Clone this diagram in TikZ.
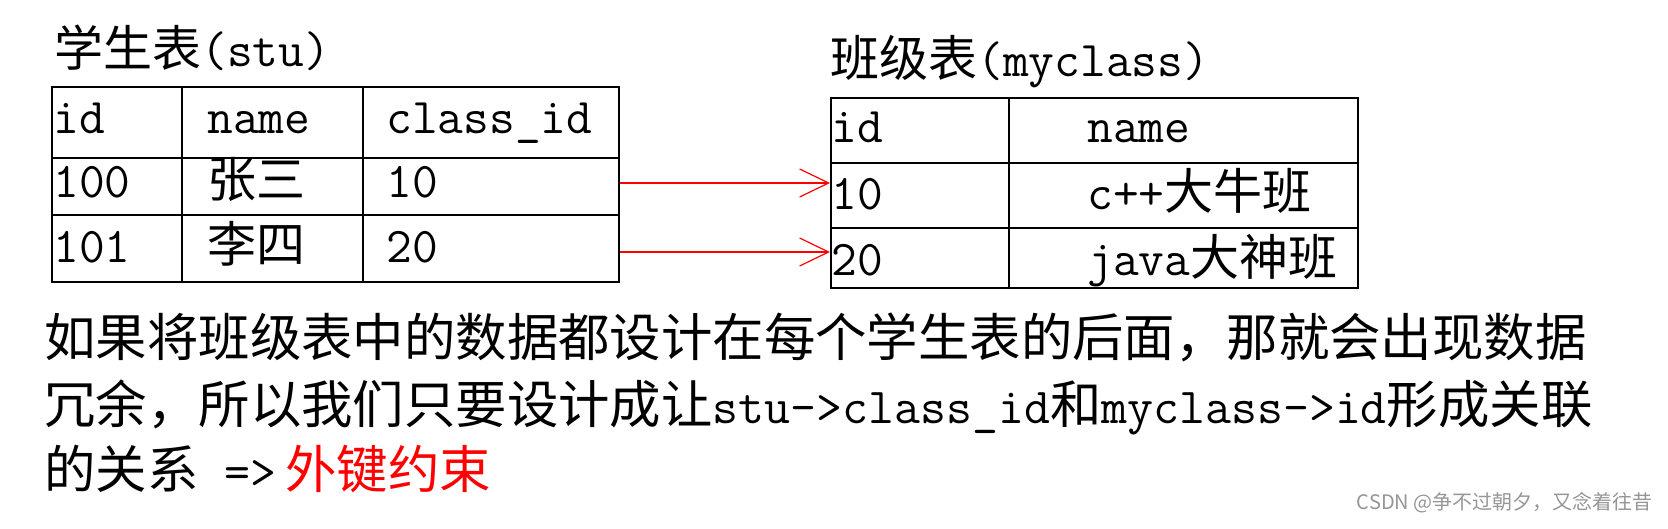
\documentclass[tikz,border=0pt]{standalone}
\usepackage{fontspec}
\setmonofont{Latin Modern Mono}
\newfontfamily\cjk{Noto Sans CJK SC}
\usetikzlibrary{arrows.meta}
\definecolor{wmgray}{RGB}{150,150,150}
\definecolor{fkred}{RGB}{255,0,0}
\newcommand\Ct[1]{{\cjk\fontsize{24.5pt}{24.5pt}\selectfont #1}}
\newcommand\Cp[1]{{\cjk\fontsize{25.7pt}{25.7pt}\selectfont #1}}
\begin{document}
\begin{tikzpicture}[x=0.5pt,y=-0.5pt,
  cell/.style={draw=black,line width=1pt,inner sep=0pt,anchor=north west},
  ttext/.style={anchor=base west,inner sep=0pt,font=\ttfamily\fontsize{25pt}{25pt}\selectfont},
  ptext/.style={anchor=base west,inner sep=0pt,font=\ttfamily\fontsize{25.2pt}{25.2pt}\selectfont},
  link/.style={draw=fkred,line width=0.6pt,-{Straight Barb[length=14.5pt,width=14pt,line width=0.6pt]}},
]
\useasboundingbox (0,0) rectangle (1668,529);
\fill[white] (0,0) rectangle (1668,529);

% stu table
\node[cell,minimum width=65pt,minimum height=35.5pt] (s11) at (51,86) {};
\node[cell,minimum width=90.5pt,minimum height=35.5pt] (s12) at (181,86) {};
\node[cell,minimum width=128pt,minimum height=35.5pt] (s13) at (362,86) {};
\node[cell,minimum width=65pt,minimum height=28.5pt] (s21) at (51,157) {};
\node[cell,minimum width=90.5pt,minimum height=28.5pt] (s22) at (181,157) {};
\node[cell,minimum width=128pt,minimum height=28.5pt] (s23) at (362,157) {};
\node[cell,minimum width=65pt,minimum height=33.5pt] (s31) at (51,214) {};
\node[cell,minimum width=90.5pt,minimum height=33.5pt] (s32) at (181,214) {};
\node[cell,minimum width=128pt,minimum height=33.5pt] (s33) at (362,214) {};

% myclass table
\node[cell,minimum width=89pt,minimum height=32.5pt] (m11) at (830,97) {};
\node[cell,minimum width=174.5pt,minimum height=32.5pt] (m12) at (1008,97) {};
\node[cell,minimum width=89pt,minimum height=32.5pt] (m21) at (830,162) {};
\node[cell,minimum width=174.5pt,minimum height=32.5pt] (m22) at (1008,162) {};
\node[cell,minimum width=89pt,minimum height=30pt] (m31) at (830,227) {};
\node[cell,minimum width=174.5pt,minimum height=30pt] (m32) at (1008,227) {};

% titles
\node[ttext] (tstu) at (54,67) {\Ct{学生表}(stu)};
\node[ttext] (tmy) at (830,77) {\Ct{班级表}(myclass)};

% stu texts
\node[ttext] (s11t) at (53,134) {id};
\node[ttext] (s12t) at (207,134) {name};
\node[ttext] (s13t) at (386,134) {class\_id};
\node[ttext] (s21t) at (53,198) {100};
\node[ttext] (s22t) at (207,198) {\Ct{张三}};
\node[ttext] (s23t) at (386,198) {10};
\node[ttext] (s31t) at (53,263) {101};
\node[ttext] (s32t) at (207,263) {\Ct{李四}};
\node[ttext] (s33t) at (386,263) {20};

% myclass texts
\node[ttext] (m11t) at (831,143) {id};
\node[ttext] (m12t) at (1087,143) {name};
\node[ttext] (m21t) at (831,210) {10};
\node[ttext] (m22t) at (1087,210) {c++\Ct{大牛班}};
\node[ttext] (m31t) at (831,275) {20};
\node[ttext] (m32t) at (1087,275) {java\Ct{大神班}};

% arrows
\coordinate (r1) at (0,183);
\coordinate (r2) at (0,252);
\draw[link] (s23.east |- r1) -- (m21.west |- r1);
\draw[link] (s33.east |- r2) -- (m31.west |- r2);

% paragraph
\node[ptext] (p1) at (44,356) {\Cp{如果将班级表中的数据都设计在每个学生表的后面，那就会出现数据}};
\node[ptext] (p2) at (44,423) {\Cp{冗余，所以我们只要设计成让}stu->class\_id\Cp{和}myclass->id\Cp{形成关联}};
\node[ptext] (p3) at (44,488) {\Cp{的关系} =>};
\node[ptext,text=fkred] (p4) at (285,488) {\Cp{外键约束}};

% watermark
\node[anchor=base east,inner sep=0pt,text=wmgray,font=\cjk\fontsize{10pt}{10pt}\selectfont] (wm) at (1653,509) {CSDN @争不过朝夕，又念着往昔};
\end{tikzpicture}
\end{document}
